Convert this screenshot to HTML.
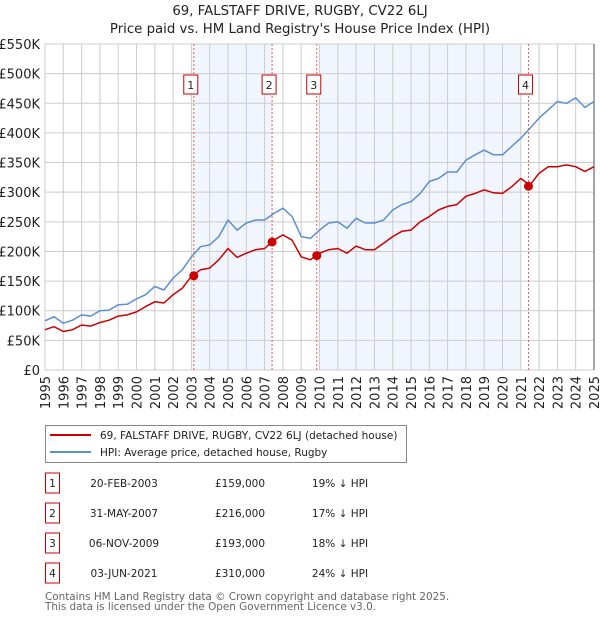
<!DOCTYPE html>
<html><head><meta charset="utf-8"><style>
body{margin:0;background:#fff;font-family:"DejaVu Sans","Liberation Sans",sans-serif}
svg text{font-family:"DejaVu Sans","Liberation Sans",sans-serif}
</style></head><body>
<svg id="c" width="600" height="620" xmlns="http://www.w3.org/2000/svg"></svg>
<script>
const years=[];for(let y=1995;y<=2025;y+=0.5)years.push(y);
const hpiValues=[83,90,79,84,93,91,100,101,110,111,120,127,141,135,155,169,191,208,211,225,253,236,248,253,253,264,273,259,225,222,236,248,250,239,256,248,248,253,270,279,284,298,318,323,334,334,354,363,371,363,363,377,391,408,425,439,453,450,459,443,453];
const priceValues=[68,73,65,68,76,74,80,84,91,93,98,107,115,113,127,138,158,169,172,186,205,190,197,203,205,219,228,219,191,186,197,203,205,197,209,203,203,214,225,234,236,250,259,270,276,279,293,298,304,299,298,309,323,312,332,343,343,346,343,335,343];
const saleLabels=["1","2","3","4"];
const saleDates=[2003.13,2007.41,2009.85,2021.42];
const salePrices=[159,216,193,310];
const saleDateText=["20-FEB-2003","31-MAY-2007","06-NOV-2009","03-JUN-2021"];
const salePriceText=["£159,000","£216,000","£193,000","£310,000"];
const saleHpiText=["19% ↓ HPI","17% ↓ HPI","18% ↓ HPI","24% ↓ HPI"];
const yTicks=[0,50,100,150,200,250,300,350,400,450,500,550];
const xTicks=[];for(let y=1995;y<=2025;y++)xTicks.push(y);
const shadeRanges=[[2003.13,2007.41],[2010.0,2021.0]];

const L=45,R=594,T=44,B=370;
const X=v=>L+(v-1995)/30*(R-L);
const Y=v=>B-v/550*(B-T);
const svg=document.getElementById('c');
const NS='http://www.w3.org/2000/svg';
function el(tag,attrs,parent){const e=document.createElementNS(NS,tag);for(const k in attrs)e.setAttribute(k,attrs[k]);(parent||svg).appendChild(e);return e;}
function txt(s,attrs,parent){const e=el('text',attrs,parent);e.textContent=s;return e;}

let t=txt("69, FALSTAFF DRIVE, RUGBY, CV22 6LJ",{x:300,y:15,'text-anchor':'middle','font-size':13.3,fill:'#222'});

t=txt("Price paid vs. HM Land Registry's House Price Index (HPI)",{x:300,y:33,'text-anchor':'middle','font-size':13.3,fill:'#222'});


shadeRanges.forEach(r=>{const s=el('rect',{x:X(r[0]),y:T,width:X(r[1])-X(r[0]),height:B-T,fill:'#eef3fc',opacity:0.8});
});

yTicks.forEach(v=>{const g=el('line',{x1:L,x2:R,y1:Y(v),y2:Y(v),stroke:'#cccccc','stroke-width':1});

const lb=txt(v===0?'£0':'£'+v+'K',{x:L-5,y:Y(v)+5,'text-anchor':'end','font-size':13,fill:'#222'});
});
xTicks.forEach(v=>{const g=el('line',{x1:X(v),x2:X(v),y1:T,y2:B,stroke:'#cccccc','stroke-width':1});

const lb=txt(String(v),{x:0,y:0,'text-anchor':'end','font-size':13,fill:'#222',transform:`translate(${X(v)+5},${B+6}) rotate(-90)`});
});
const rb=el('line',{x1:R,x2:R,y1:T,y2:B,stroke:'#888','stroke-width':1.5});


saleDates.forEach((d,i)=>{const l=el('line',{x1:X(d),x2:X(d),y1:T,y2:B,stroke:'#e06060','stroke-width':1,'stroke-dasharray':'2,2'});

const bx=el('rect',{x:X(d)-10,y:75,width:14,height:19,fill:'#fff',stroke:'#cc0000','stroke-width':1});

const tx=txt(saleLabels[i],{x:X(d)-3,y:89,'text-anchor':'middle','font-size':11,fill:'#222'});
});

function path(vals,color,name){const d=vals.map((v,i)=>(i?'L':'M')+X(years[i]).toFixed(1)+','+Y(v).toFixed(1)).join('');
const p=el('path',{d,fill:'none',stroke:color,'stroke-width':1.5,'stroke-linejoin':'round'});
}
path(hpiValues,'#5b8fd0','hpi-line');
path(priceValues,'#cc0000','price-line');
saleDates.forEach((d,i)=>{const c=el('circle',{cx:X(d),cy:Y(salePrices[i]),r:4.5,fill:'#cc0000'});
});

const lg=el('rect',{x:45.5,y:425.5,width:361,height:37,fill:'#fff',stroke:'#888'});

let ln=el('line',{x1:50,x2:91,y1:435,y2:435,stroke:'#cc0000','stroke-width':2});

t=txt("69, FALSTAFF DRIVE, RUGBY, CV22 6LJ (detached house)",{x:100,y:439,'font-size':10.5,fill:'#222'});

ln=el('line',{x1:50,x2:91,y1:452,y2:452,stroke:'#5b8fd0','stroke-width':2});

t=txt("HPI: Average price, detached house, Rugby",{x:100,y:456,'font-size':10.5,fill:'#222'});


saleLabels.forEach((s,i)=>{const cy=483+i*30;
const b=el('rect',{x:45.5,y:cy-10,width:14,height:20,fill:'#fff',stroke:'#cc0000'});

let e=txt(s,{x:52.5,y:cy+4,'text-anchor':'middle','font-size':10.5,fill:'#222'});

e=txt(saleDateText[i],{x:124,y:cy+4,'text-anchor':'middle','font-size':10.5,fill:'#222'});

e=txt(salePriceText[i],{x:240,y:cy+4,'text-anchor':'middle','font-size':10.5,fill:'#222'});

e=txt(saleHpiText[i],{x:340,y:cy+4,'text-anchor':'middle','font-size':10.5,fill:'#222'});
});

t=txt("Contains HM Land Registry data © Crown copyright and database right 2025.",{x:45,y:600,'font-size':10.4,fill:'#666'});

t=txt("This data is licensed under the Open Government Licence v3.0.",{x:45,y:610,'font-size':10.4,fill:'#666'});

</script>
</body></html>
